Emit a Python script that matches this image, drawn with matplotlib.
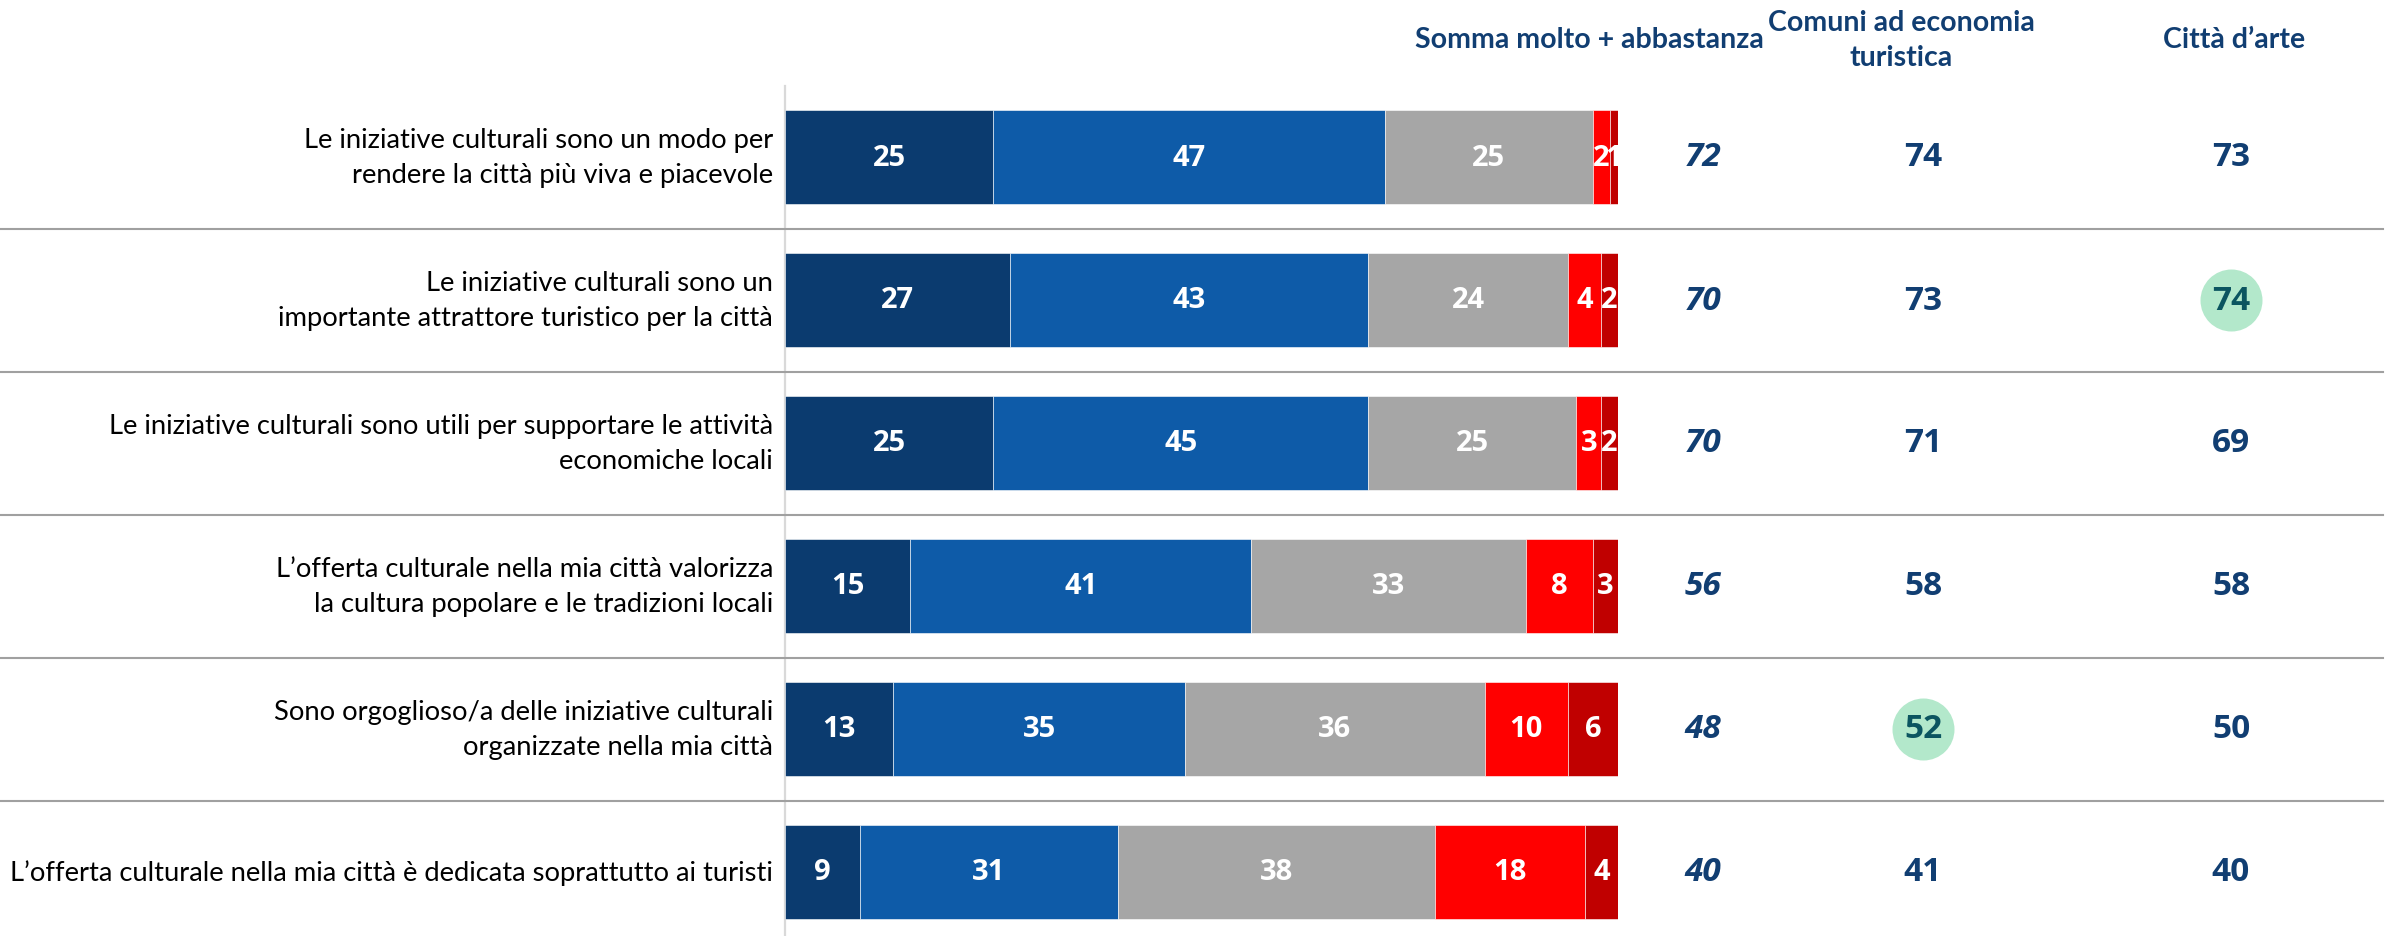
import matplotlib
matplotlib.use("Agg")
import matplotlib.pyplot as plt
from matplotlib.transforms import blended_transform_factory

# ---------------- data ----------------
labels = [
    "Le iniziative culturali sono un modo per\nrendere la città più viva e piacevole",
    "Le iniziative culturali sono un\nimportante attrattore turistico per la città",
    "Le iniziative culturali sono utili per supportare le attività\neconomiche locali",
    "L\u2019offerta culturale nella mia città valorizza\nla cultura popolare e le tradizioni locali",
    "Sono orgoglioso/a delle iniziative culturali\norganizzate nella mia città",
    "L\u2019offerta culturale nella mia città è dedicata soprattutto ai turisti",
]
molto = [25, 27, 25, 15, 13, 9]
abbastanza = [47, 43, 45, 41, 35, 31]
neutro = [25, 24, 25, 33, 36, 38]
poco = [2, 4, 3, 8, 10, 18]
per_niente = [1, 2, 2, 3, 6, 4]
somma = [72, 70, 70, 56, 48, 40]
comuni = [74, 73, 71, 58, 52, 41]
citta = [73, 74, 69, 58, 50, 40]
hl_comuni = [False, False, False, False, True, False]
hl_citta = [False, True, False, False, False, False]
headers = [["Somma molto + abbastanza"], ["Comuni ad economia", "turistica"], ["Città d\u2019arte"]]

seg_colors = ["#0B3B6F", "#0E5BA8", "#A6A6A6", "#FF0000", "#C00000"]
val_color = "#113E72"
circ_color = "#B3E8CB"
circ_text = "#0B5560"

FONT = ["Lato", "DejaVu Sans"]
NUMFONT = ["Open Sans", "DejaVu Sans"]
plt.rcParams["font.family"] = FONT

W, H = 2386, 937
fig = plt.figure(figsize=(W / 100, H / 100), dpi=100)


def fx(px):
    return px / W


def fy(py):
    return 1 - py / H


n = len(labels)
row_h = 143.0
top = 86.5
x0, bw = 785, 833
ax = fig.add_axes([fx(x0), 1 - (top + n * row_h) / H, bw / W, n * row_h / H])
ax.set_xlim(0, 100)
ax.set_ylim(n - 0.5, -0.5)
ax.axis("off")
ax.axvline(0, color="#D9D9D9", lw=1.6, zorder=0, clip_on=False)

series = [molto, abbastanza, neutro, poco, per_niente]
ys = list(range(n))
lefts = [0] * n
for vals, col in zip(series, seg_colors):
    ax.barh(ys, vals, left=lefts, height=0.66, color=col, edgecolor="white", linewidth=0.4, zorder=2)
    for i, v in enumerate(vals):
        ax.text(lefts[i] + v / 2, i, str(v), ha="center", va="center", color="white",
                fontsize=21, fontweight="bold", family=NUMFONT, zorder=3)
    lefts = [l + v for l, v in zip(lefts, vals)]

# separators spanning the full width
for k in range(1, n):
    ax.axhline(k - 0.5, xmin=-x0 / bw, xmax=(2383 - x0) / bw, color="#A0A0A0", lw=1.5,
               clip_on=False, zorder=1)

tr = blended_transform_factory(fig.transFigure, ax.transData)
r = fig.canvas.get_renderer()

# left labels
lab_texts = []
for i, lab in enumerate(labels):
    t = ax.text(fx(773), i, lab, transform=tr, ha="right", va="center", multialignment="right",
                fontsize=18, color="black", linespacing=1.25)
    lab_texts.append(t)
bb = lab_texts[-1].get_window_extent(r)
fs = 18 * 761 / bb.width
for t in lab_texts:
    t.set_fontsize(fs)
    t.set_linespacing(41 / (fs * 100 / 72))

# value columns
col_x = [1703, 1923, 2231]
for i in range(n):
    ax.text(fx(col_x[0]), i, str(somma[i]), transform=tr, ha="center", va="center",
            fontsize=24, fontweight="bold", fontstyle="italic", family=NUMFONT, color=val_color)
    for cx, vals, hl in [(col_x[1], comuni, hl_comuni), (col_x[2], citta, hl_citta)]:
        if hl[i]:
            ax.scatter([fx(cx)], [i], s=(62 * 0.72) ** 2, color=circ_color, transform=tr,
                       clip_on=False, zorder=1, linewidths=0)
            ax.text(fx(cx), i, str(vals[i]), transform=tr, ha="center", va="center",
                    fontsize=24, fontweight="bold", family=NUMFONT, color=circ_text, zorder=2)
        else:
            ax.text(fx(cx), i, str(vals[i]), transform=tr, ha="center", va="center",
                    fontsize=24, fontweight="bold", family=NUMFONT, color=val_color)

# headers (each line placed separately, common size fitted on the first header)
hx = [1589, 1901, 2234]
hy = [[40], [23, 58], [40]]
htexts = []
for x, lines, ylist in zip(hx, headers, hy):
    for s, yy in zip(lines, ylist):
        htexts.append(fig.text(fx(x), fy(yy), s, ha="center", va="center", fontsize=18,
                               fontweight="bold", color=val_color))
hfs = 18 * 348 / htexts[0].get_window_extent(r).width
for t in htexts:
    t.set_fontsize(hfs)

fig.savefig("out.png", dpi=100, facecolor="white")
